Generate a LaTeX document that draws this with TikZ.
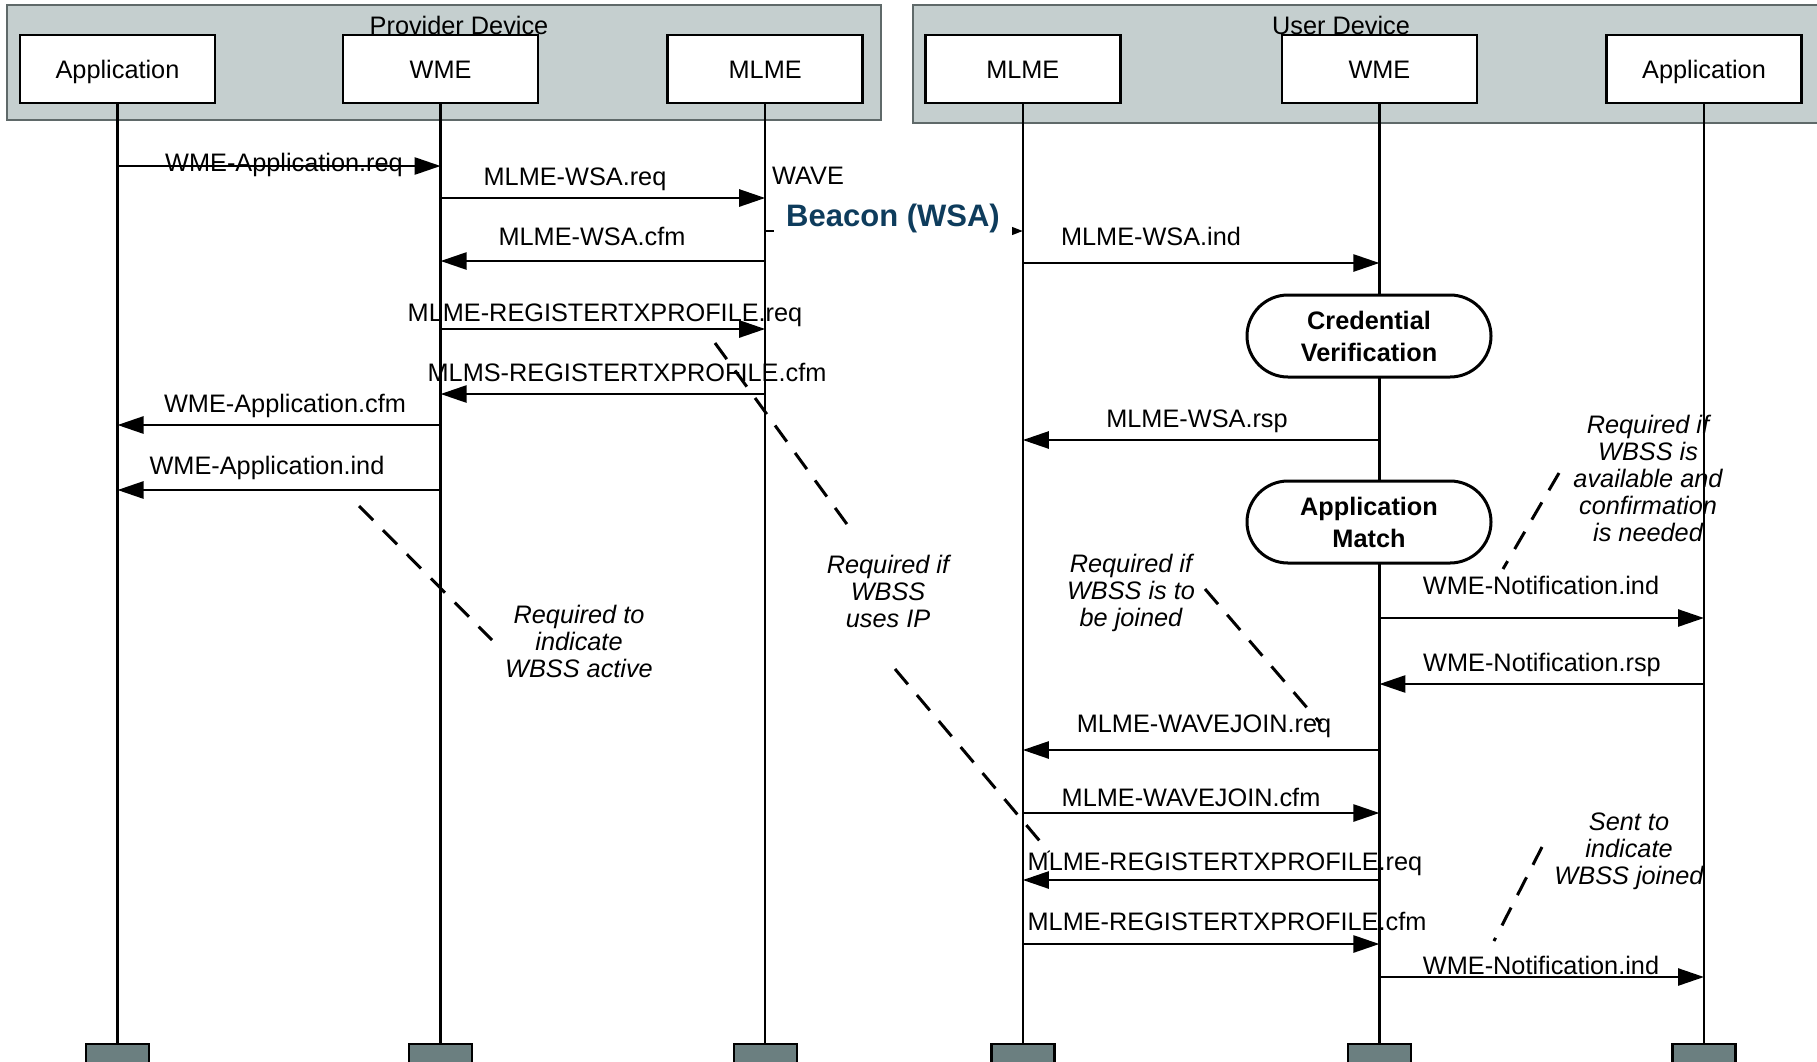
\documentclass[tikz,border=0pt]{standalone}
\usepackage{fontspec}
\setmainfont{Liberation Sans}
\usetikzlibrary{positioning,arrows.meta}

\definecolor{devicegrey}{RGB}{197,207,207}
\definecolor{deviceedge}{RGB}{95,105,105}
\definecolor{stopgrey}{RGB}{107,127,128}
\definecolor{beaconblue}{RGB}{14,60,92}

\newcommand{\seqsize}{\fontsize{25.3}{27}\selectfont}

\tikzset{
  device/.style={fill=devicegrey, draw=deviceedge, line width=1.8pt},
  entity/.style={draw, line width=2.6pt, fill=white, minimum width=195pt, minimum height=68pt, inner sep=0pt, text height=18pt, text depth=0pt, font=\seqsize},
  stopbox/.style={draw, line width=2.4pt, fill=stopgrey, minimum width=63pt, minimum height=40pt, inner sep=0pt},
  life/.style={line width=2.4pt},
  msg/.style={line width=2.6pt, -{Triangle[length=26pt,width=17pt]}},
  lbl/.style={anchor=base, inner sep=0pt, font=\seqsize},
  proc/.style={draw, line width=3pt, fill=white, rounded corners=41pt, minimum width=244pt, minimum height=82pt, align=center, font=\fontsize{25.3}{32}\selectfont\bfseries},
  note/.style={align=center, inner sep=0pt, font=\seqsize\itshape},
  hint/.style={line width=3pt, dash pattern=on 20pt off 14pt},
}

\begin{document}
\begin{tikzpicture}[x=1pt,y=-1pt]
\useasboundingbox (0,0) rectangle (1817,1061);
\clip (0,0) rectangle (1817,1061);

\draw[device] (7,5) rectangle (881,120);
\draw[device] (913,5) rectangle (1830,123);
\node[lbl] (provider) at (459,34) {Provider Device};
\node[lbl] (user) at (1341,34) {User Device};

\node[entity] (app1) at (117.5,69) {Application};
\node[entity, right=125.5pt of app1] (wme1) {WME};
\node[entity, right=127pt of wme1] (mlme1) {MLME};
\node[entity, right=60pt of mlme1] (mlme2) {MLME};
\node[entity, right=159pt of mlme2] (wme2) {WME};
\node[entity, right=127pt of wme2] (app2) {Application};

\foreach \who in {app1,wme1,mlme1,mlme2,wme2,app2} {
  \node[stopbox, anchor=north] (\who stop) at (\who |- 0,1043) {};
  \draw[life] (\who.south) -- (\who stop.north);
}

\draw[msg] (app1 |- 0,166) -- (wme1 |- 0,166);
\node[lbl] (appreq) at (284,171) {WME-Application.req};
\draw[msg] (wme1 |- 0,198) -- (mlme1 |- 0,198);
\node[lbl] (wsareq) at (575,185) {MLME-WSA.req};
\node[lbl, anchor=base west] (wave) at (772,184) {WAVE};
\draw[line width=1.5pt, -{Triangle[length=11pt,width=8pt]}] (mlme1 |- 0,231) -- (mlme2 |- 0,231);
\node[fill=white, inner xsep=12pt, inner ysep=6pt, text=beaconblue, font=\fontsize{31}{34}\selectfont\bfseries] (beacon) at (893,218) {Beacon (WSA)};
\draw[msg] (mlme1 |- 0,261) -- (wme1 |- 0,261);
\node[lbl] (wsacfm) at (592,245) {MLME-WSA.cfm};
\draw[msg] (wme1 |- 0,329) -- (mlme1 |- 0,329);
\node[lbl] (regreq) at (605,321) {MLME-REGISTERTXPROFILE.req};
\draw[msg] (mlme1 |- 0,394) -- (wme1 |- 0,394);
\node[lbl] (regcfm) at (627,381) {MLMS-REGISTERTXPROFILE.cfm};
\draw[msg] (wme1 |- 0,425) -- (app1 |- 0,425);
\node[lbl] (appcfm) at (285,412) {WME-Application.cfm};
\draw[msg] (wme1 |- 0,490) -- (app1 |- 0,490);
\node[lbl] (appind) at (267,474) {WME-Application.ind};

\draw[msg] (mlme2 |- 0,263) -- (wme2 |- 0,263);
\node[lbl] (wsaind) at (1151,245) {MLME-WSA.ind};
\node[proc] (cred) at (1369,336) {Credential\\Verification};
\draw[msg] (wme2 |- 0,440) -- (mlme2 |- 0,440);
\node[lbl] (wsarsp) at (1197,427) {MLME-WSA.rsp};
\node[proc] (match) at (1369,522) {Application\\Match};
\draw[msg] (wme2 |- 0,618) -- (app2 |- 0,618);
\node[lbl] (notind) at (1541,594) {WME-Notification.ind};
\draw[msg] (app2 |- 0,684) -- (wme2 |- 0,684);
\node[lbl] (notrsp) at (1542,671) {WME-Notification.rsp};
\draw[msg] (wme2 |- 0,750) -- (mlme2 |- 0,750);
\node[lbl] (joinreq) at (1204,732) {MLME-WAVEJOIN.req};
\draw[msg] (mlme2 |- 0,813) -- (wme2 |- 0,813);
\node[lbl] (joincfm) at (1191,806) {MLME-WAVEJOIN.cfm};
\draw[msg] (wme2 |- 0,880) -- (mlme2 |- 0,880);
\node[lbl] (ureqreq) at (1225,870) {MLME-REGISTERTXPROFILE.req};
\draw[msg] (mlme2 |- 0,944) -- (wme2 |- 0,944);
\node[lbl] (uregcfm) at (1227,930) {MLME-REGISTERTXPROFILE.cfm};
\draw[msg] (wme2 |- 0,977) -- (app2 |- 0,977);
\node[lbl] (notjoin) at (1541,974) {WME-Notification.ind};

\node[note] (active) at (579,641) {Required to\\indicate\\WBSS active};
\node[note] (useip) at (888,591) {Required if\\WBSS\\uses IP};
\node[note] (tojoin) at (1131,593) {Required if\\WBSS is to\\be joined};
\node[note] (confirm) at (1648,478) {Required if\\WBSS is\\available and\\confirmation\\is needed};
\node[note] (joined) at (1629,851) {Sent to\\indicate\\WBSS joined};

\draw[hint] (359,506) -- (492,640);
\draw[hint] (715,343) -- (849,527);
\draw[hint] (895,669) -- (1049,852);
\draw[hint] (1205,589) -- (1321,724);
\draw[hint] (1559,473) -- (1503,569);
\draw[hint] (1542,847) -- (1494,941);
\end{tikzpicture}
\end{document}
